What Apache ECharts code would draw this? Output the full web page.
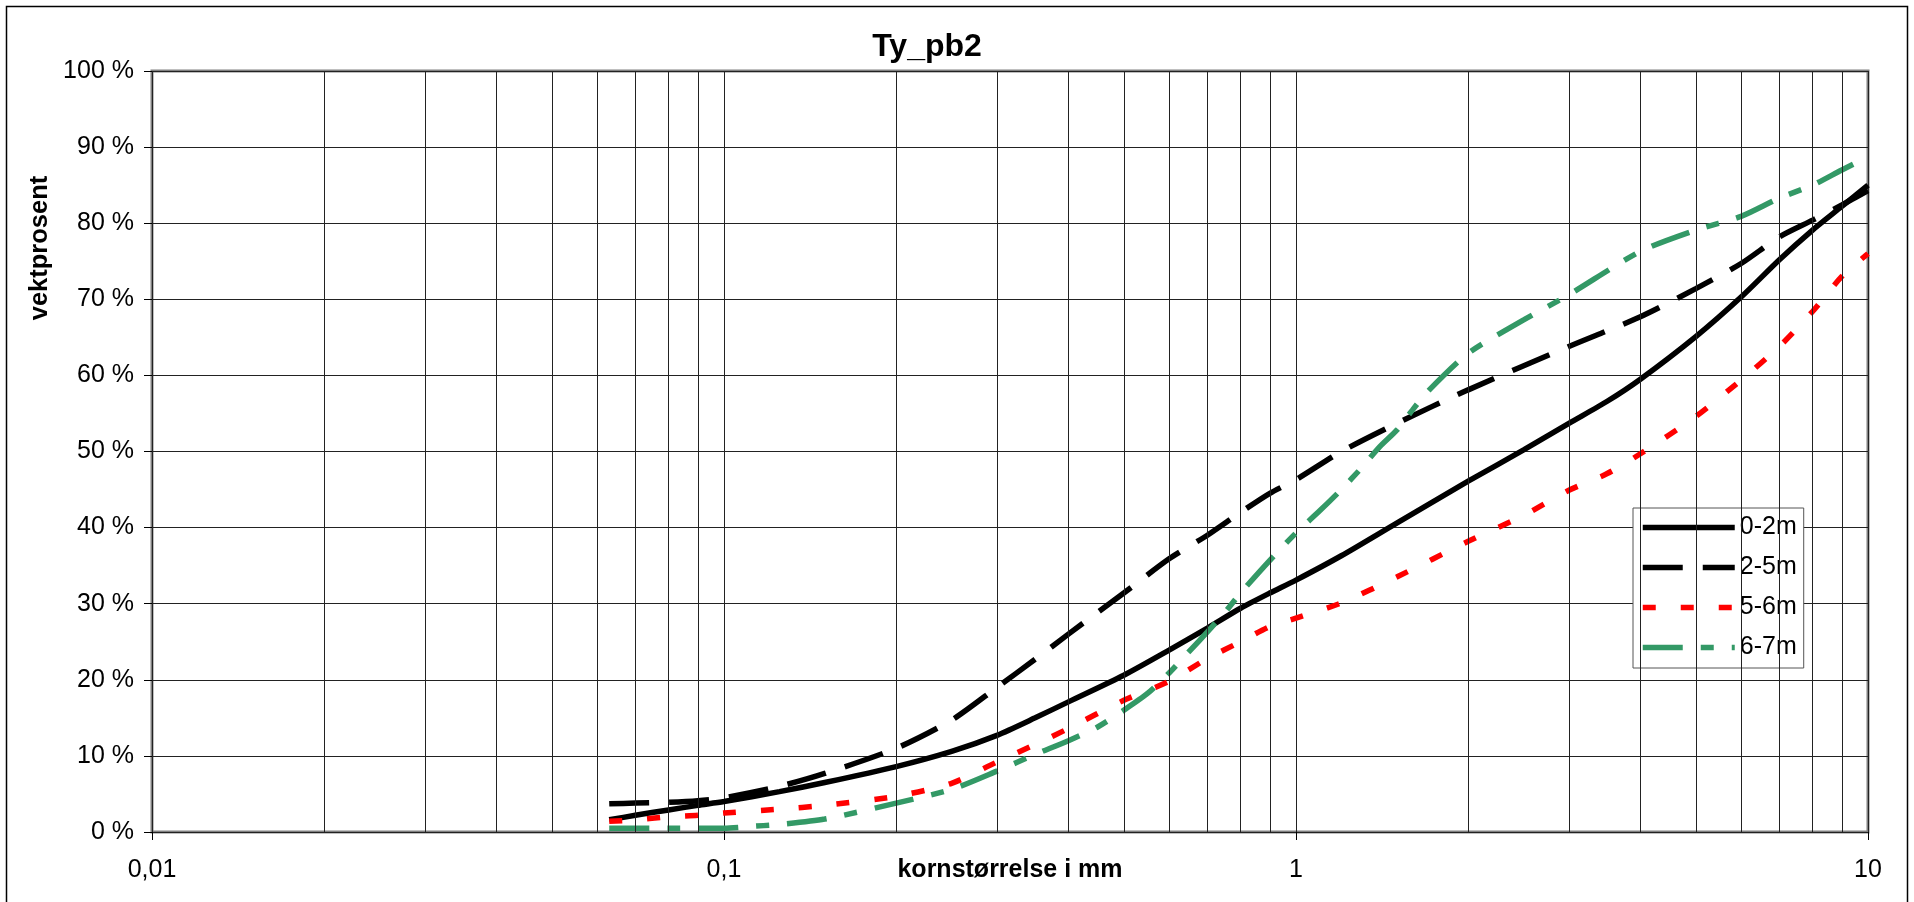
<!DOCTYPE html>
<html>
<head>
<meta charset="utf-8">
<title>Ty_pb2</title>
<script src="https://cdn.jsdelivr.net/npm/echarts@6/dist/echarts.min.js"></script>
<style>
  html, body { margin: 0; padding: 0; background: #fff; }
  #chart { width: 1914px; height: 902px; }
</style>
</head>
<body>
<div id="chart"></div>
<script>
// ==================== 数据 ====================

// kornstørrelse (mm), vektprosent (%)
const serie02 = [
    [0.063, 1.6], [0.07, 2.2], [0.08, 2.9], [0.09, 3.5], [0.1, 4.0], [0.125, 5.3],
    [0.15, 6.5], [0.2, 8.6], [0.25, 10.6], [0.3, 12.7], [0.35, 15.0], [0.4, 17.1],
    [0.5, 20.6], [0.6, 23.9], [0.7, 26.8], [0.8, 29.4], [0.9, 31.4], [1.0, 33.1],
    [1.2, 36.3], [1.5, 40.6], [2, 46.1], [2.5, 50.2], [3, 53.7], [3.5, 56.6],
    [4, 59.5], [5, 65.1], [6, 70.3], [7, 75.2], [8, 79.1], [9, 82.2], [10, 85.0]
];
const serie25 = [
    [0.063, 3.7], [0.07, 3.8], [0.08, 3.9], [0.09, 4.1], [0.1, 4.5], [0.125, 6.0],
    [0.15, 7.7], [0.2, 11.0], [0.25, 14.7], [0.3, 19.0], [0.35, 22.7], [0.4, 26.0],
    [0.5, 31.4], [0.6, 35.9], [0.7, 39.0], [0.8, 42.0], [0.9, 44.5], [1.0, 46.3],
    [1.2, 50.0], [1.5, 53.7], [2, 58.1], [3, 63.8], [4, 67.7], [5, 71.4],
    [6, 74.7], [7, 78.2], [8, 80.4], [9, 82.4], [10, 84.3]
];
const serie56 = [
    [0.063, 1.4], [0.07, 1.6], [0.08, 2.0], [0.09, 2.2], [0.1, 2.5], [0.125, 3.0],
    [0.15, 3.5], [0.2, 4.7], [0.25, 6.4], [0.3, 9.2], [0.35, 11.5], [0.4, 13.6],
    [0.5, 17.3], [0.6, 19.8], [0.7, 22.8], [0.8, 25.0], [0.9, 27.0], [1.0, 28.1],
    [1.2, 30.1], [1.5, 33.5], [2, 38.2], [2.5, 41.6], [3, 44.9], [3.5, 47.1],
    [4, 49.7], [5, 54.6], [6, 59.4], [7, 63.8], [8, 68.4], [9, 73.0], [10, 76.0]
];
const serie67 = [
    [0.063, 0.5], [0.08, 0.5], [0.1, 0.5], [0.11, 0.7], [0.125, 1.0], [0.15, 1.7],
    [0.2, 3.8], [0.25, 5.6], [0.3, 8.0], [0.35, 10.2], [0.4, 12.0], [0.45, 13.8],
    [0.5, 16.0], [0.55, 18.2], [0.6, 20.9], [0.65, 23.7], [0.7, 26.3], [0.75, 28.8],
    [0.8, 31.4], [0.9, 35.7], [1.0, 39.3], [1.1, 42.2], [1.2, 45.0], [1.3, 47.8],
    [1.4, 50.6], [1.5, 52.8], [1.6, 55.5], [1.7, 57.9], [2, 62.9], [2.5, 67.3],
    [3, 70.6], [4, 76.3], [5, 79.1], [6, 80.9], [7, 83.3], [8, 85.0], [9, 87.0], [10, 88.7]
];

const seriesNames = ['0-2m', '2-5m', '5-6m', '6-7m'];

// 次网格线 (0.02 ... 9)
const minorGrid = [
    0.02, 0.03, 0.04, 0.05, 0.06, 0.07, 0.08, 0.09,
    0.2, 0.3, 0.4, 0.5, 0.6, 0.7, 0.8, 0.9,
    2, 3, 4, 5, 6, 7, 8, 9
];

// ==================== 图表 ====================

const chart = echarts.init(document.getElementById('chart'));
const FONT = 'Liberation Sans, Arial, sans-serif';
const LINE_W = 5.5;

const styles = {
    '0-2m': { color: '#000', dash: 'solid' },
    '2-5m': { color: '#000', dash: [40, 20] },
    '5-6m': { color: '#ff0000', dash: [13, 25] },
    '6-7m': { color: '#339966', dash: [40, 18, 13, 18] }
};

function lineSeries(name, data) {
    const s = styles[name];
    return {
        name: name,
        type: 'line',
        data: data,
        smooth: 0.25,
        symbol: 'none',
        showSymbol: false,
        z: 3,
        lineStyle: { color: s.color, width: LINE_W, type: s.dash },
        itemStyle: { color: s.color }
    };
}

const option = {
    animation: false,
    backgroundColor: '#fff',
    textStyle: { fontFamily: FONT },
    grid: {
        left: 152, right: 46, top: 71, bottom: 70,
        outerBoundsMode: 'none',
        containLabel: false,
        show: true, borderColor: '#808080', borderWidth: 3
    },
    legend: {
        orient: 'vertical',
        left: 1633, top: 508,
        padding: [7, 7, 8, 7],
        itemWidth: 92, itemHeight: 14, itemGap: 15,
        backgroundColor: '#fff',
        borderColor: '#555', borderWidth: 1,
        textStyle: { fontSize: 25, color: '#000', lineHeight: 25 },
        itemStyle: { opacity: 0 },
        data: seriesNames.map(n => ({
            name: n,
            itemStyle: { opacity: 0 },
            lineStyle: { color: styles[n].color, width: LINE_W, type: styles[n].dash }
        }))
    },
    xAxis: {
        type: 'log', logBase: 10, min: 0.01, max: 10,
        name: 'kornstørrelse i mm', nameLocation: 'middle', nameGap: 26,
        nameMoveOverlap: false,
        nameTextStyle: { fontSize: 25, fontWeight: 'bold', color: '#000' },
        axisLine: { show: false },
        axisTick: { show: true, length: 8, lineStyle: { color: '#000' } },
        axisLabel: {
            fontSize: 25, color: '#000', margin: 26,
            formatter: v => String(v).replace('.', ',')
        },
        splitLine: { show: true, lineStyle: { color: '#222', width: 1 } }
    },
    yAxis: {
        type: 'value', min: 0, max: 100, interval: 10,
        axisLine: { show: false },
        axisTick: { show: true, length: 8, lineStyle: { color: '#000' } },
        axisLabel: { fontSize: 25, color: '#000', margin: 18, formatter: '{value} %' },
        splitLine: { show: true, lineStyle: { color: '#222', width: 1 } }
    },
    graphic: [
        {
            type: 'rect', silent: true, z: -1,
            shape: { x: 6.5, y: 6.5, width: 1901, height: 910 },
            style: { fill: 'none', stroke: '#000', lineWidth: 1.5 }
        },
        {
            type: 'text', x: 927, y: 47,
            style: {
                text: 'Ty_pb2', font: 'bold 32px ' + FONT, fill: '#000',
                textAlign: 'center', textVerticalAlign: 'middle'
            }
        },
        {
            type: 'text', x: 40, y: 248, rotation: Math.PI / 2,
            style: {
                text: 'vektprosent', font: 'bold 25.5px ' + FONT, fill: '#000',
                textAlign: 'center', textVerticalAlign: 'middle'
            }
        }
    ],
    series: [
        {
            name: 'grid', type: 'line', data: [], z: 1, silent: true,
            markLine: {
                silent: true, symbol: 'none', animation: false,
                label: { show: false },
                lineStyle: { color: '#222', width: 1, type: 'solid' },
                data: minorGrid.map(v => ({ xAxis: v }))
            }
        },
        lineSeries('0-2m', serie02),
        lineSeries('2-5m', serie25),
        lineSeries('5-6m', serie56),
        lineSeries('6-7m', serie67)
    ]
};

chart.setOption(option);
</script>
</body>
</html>
